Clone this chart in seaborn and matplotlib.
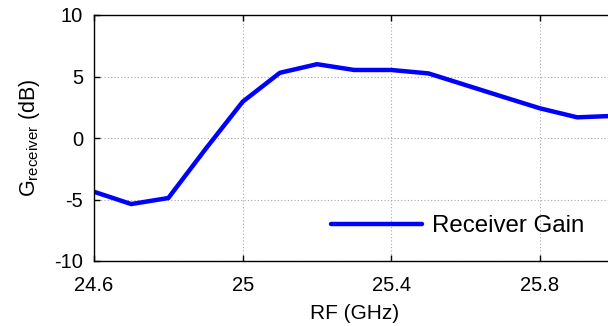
import numpy as np
import pandas as pd
import matplotlib
matplotlib.use("Agg")
import matplotlib.pyplot as plt
import seaborn as sns

# Receiver gain versus RF frequency
rf_ghz = [24.6, 24.7, 24.8, 24.9, 25.0, 25.1, 25.2, 25.3, 25.4, 25.5, 25.6, 25.7, 25.8, 25.9, 26.0]
gain_db = [-4.37, -5.37, -4.88, -0.9, 2.95, 5.3, 6.0, 5.53, 5.53, 5.25, 4.3, 3.35, 2.41, 1.68, 1.8]
x_ticks = [24.6, 25.0, 25.4, 25.8]
x_tick_labels = ["24.6", "25", "25.4", "25.8"]
y_ticks = [-10, -5, 0, 5, 10]

sns.set_style("ticks")
plt.rcParams["font.family"] = ["Liberation Sans", "DejaVu Sans"]
plt.rcParams["mathtext.fontset"] = "custom"
plt.rcParams["mathtext.rm"] = "Liberation Sans"
plt.rcParams["mathtext.it"] = "Liberation Sans"
plt.rcParams["axes.unicode_minus"] = False
plt.rcParams["text.color"] = "black"
plt.rcParams["axes.labelcolor"] = "black"

df = pd.DataFrame({"RF": rf_ghz, "Gain": gain_db, "series": "Receiver Gain"})

fig = plt.figure(figsize=(6.08, 3.26), dpi=100)
ax = fig.add_axes([94 / 608, 65 / 326, 520.4 / 608, 246 / 326])

sns.lineplot(data=df, x="RF", y="Gain", hue="series", palette=["#0000ff"],
             linewidth=3.2, ax=ax, legend=True)

ax.set_xlim(24.6, 26.0)
ax.set_ylim(-10, 10)
ax.set_xticks(x_ticks)
ax.set_xticklabels(x_tick_labels)
ax.set_yticks(y_ticks)

ax.grid(True, linestyle=(0, (1, 2)), color="#a8a8a8", linewidth=0.8)
ax.set_axisbelow(True)
for s in ax.spines.values():
    s.set_color("black")
    s.set_linewidth(1.0)

ax.tick_params(axis="both", direction="in", length=4, width=1, labelsize=14.5,
               top=True, right=True, colors="black")
ax.tick_params(axis="x", pad=11)
ax.tick_params(axis="y", pad=8)

ax.set_xlabel("RF (GHz)", fontsize=15, labelpad=6)
ax.set_ylabel(r"G$_{\mathrm{receiver}}$ (dB)", fontsize=15.5, labelpad=9)

handles, labels = ax.get_legend_handles_labels()
ax.legend(handles, labels, loc="center left", bbox_to_anchor=(0.455, 0.142),
          frameon=False, fontsize=17.3, handlelength=3.8, handletextpad=0.42,
          borderpad=0, borderaxespad=0)

fig.savefig("out.png", dpi=100)
